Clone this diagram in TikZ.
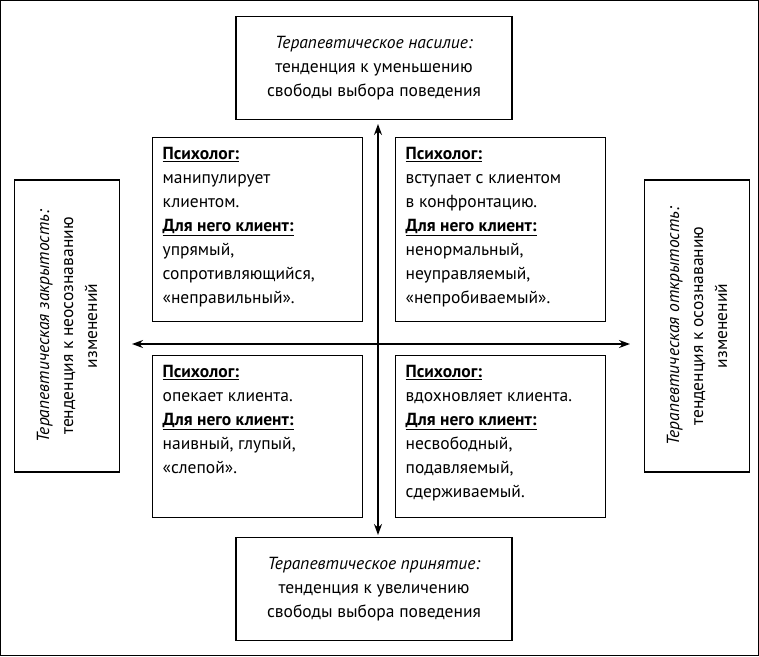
\documentclass[tikz,border=0pt]{standalone}
\usepackage{fontspec}
\setmainfont{PT Sans}
\usetikzlibrary{arrows.meta, positioning}
\tikzset{box/.style={draw, line width=1.3pt, fill=white, align=center, inner sep=4pt},
  quad/.style={draw, line width=1.3pt, fill=white, anchor=north west, inner sep=10pt}}
\tikzset{every node/.style={font=\fontsize{17.5}{24}\selectfont}}
\newcommand{\hd}[1]{\textbf{\underline{#1}}}
\newcommand{\qtext}[2]{\parbox[t][#1][t]{190pt}{\raggedright #2}}
\begin{document}
\begin{tikzpicture}[x=1pt,y=-1pt,>={Stealth[length=11pt,width=8pt]}]
    \draw[line width=1.3pt] (0.7,0.7) rectangle (758.3,655.3);
    \useasboundingbox (0,0) rectangle (759,656);
    \coordinate (top) at (378,124);
    \coordinate (bot) at (378,535);
    \coordinate (lft) at (132,344);
    \coordinate (rgt) at (630,344);
    \draw[<->, line width=1.5pt] (top) -- (bot);
    \draw[<->, line width=1.5pt] (lft) -- (rgt);
    \node[box, minimum width=276pt, minimum height=103pt] (viol) at (374,68)
        {\textit{Терапевтическое насилие:}\\тенденция к уменьшению\\свободы выбора поведения};
    \node[box, minimum width=276pt, minimum height=103pt] (acc) at (374,589)
        {\textit{Терапевтическое принятие:}\\тенденция к увеличению\\свободы выбора поведения};
    \node[box, rotate=90, minimum width=292pt, minimum height=105pt] (closed) at (67,326)
        {\textit{Терапевтическая закрытость:}\\тенденция к неосознаванию\\изменений};
    \node[box, rotate=90, minimum width=292pt, minimum height=105pt] (open) at (697,326)
        {\textit{Терапевтическая открытость:}\\тенденция к осознаванию\\изменений};
    \node[quad] (tl) at (152,137) {\qtext{164pt}{\hd{Психолог:}\\манипулирует\\клиентом.\\\hd{Для него клиент:}\\упрямый,\\сопротивляющийся,\\«неправильный».}};
    \node[quad] (tr) at (395,137) {\qtext{164pt}{\hd{Психолог:}\\вступает с клиентом\\в конфронтацию.\\\hd{Для него клиент:}\\ненормальный,\\неуправляемый,\\«непробиваемый».}};
    \node[quad] (bl) at (152,355) {\qtext{142pt}{\hd{Психолог:}\\опекает клиента.\\\hd{Для него клиент:}\\наивный, глупый,\\«слепой».}};
    \node[quad] (br) at (395,355) {\qtext{142pt}{\hd{Психолог:}\\вдохновляет клиента.\\\hd{Для него клиент:}\\несвободный,\\подавляемый,\\сдерживаемый.}};
\end{tikzpicture}
\end{document}
